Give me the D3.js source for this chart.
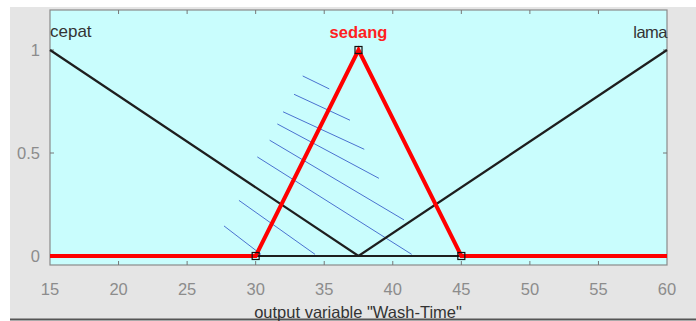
<!DOCTYPE html>
<html>
<head>
<meta charset="utf-8">
<script src="https://cdn.jsdelivr.net/npm/d3@7"></script>
<style>
  body { margin: 0; background: #fff; }
  svg { display: block; font-family: "Liberation Sans", Arial, sans-serif; }
</style>
</head>
<body>
<div id="chart"></div>
<script>
// membership functions of output "Wash-Time"
const xTicks = [15, 20, 25, 30, 35, 40, 45, 50, 55, 60];
const yTicks = [0, 0.5, 1];
const yTickLabels = ["0", "0.5", "1"];
const cepatPts = [[15, 1], [37.5, 0], [60, 0]];
const lamaPts = [[15, 0], [37.5, 0], [60, 1]];
const sedangPts = [[15, 0], [30, 0], [37.5, 1], [45, 0], [60, 0]];
const sedangVertices = [[30, 0], [37.5, 1], [45, 0]];
const mfNames = ["cepat", "sedang", "lama"];
// hand-drawn hatch strokes (x, y) pairs in data units
const hatch = [
  [[33.43, 0.874], [35.37, 0.811]],
  [[32.80, 0.785], [36.88, 0.659]],
  [[32.00, 0.700], [37.92, 0.518]],
  [[31.58, 0.641], [38.99, 0.377]],
  [[31.02, 0.562], [40.82, 0.175]],
  [[30.12, 0.481], [41.38, 0.008]],
  [[28.78, 0.270], [34.33, 0.008]],
  [[27.69, 0.146], [30.39, 0.008]]
];

const W = 696, H = 321;
const svg = d3.select("#chart").append("svg")
  .attr("width", W).attr("height", H);

// figure panel
svg.append("rect").attr("x", 10).attr("y", 7).attr("width", W - 10).attr("height", 312)
  .attr("fill", "#e5e5e5");
svg.append("line").attr("x1", 10).attr("x2", W).attr("y1", 319.5).attr("y2", 319.5)
  .attr("stroke", "#555").attr("stroke-width", 2);

const pLeft = 50, pRight = 667, pTop = 10, pBottom = 265;
const x = d3.scaleLinear().domain([15, 60]).range([pLeft, pRight]);
const y = d3.scaleLinear().domain([0, 1]).range([256, 50]);

svg.append("rect").attr("x", pLeft).attr("y", pTop)
  .attr("width", pRight - pLeft).attr("height", pBottom - pTop)
  .attr("fill", "#c9fdfd").attr("stroke", "#8a8a8a").attr("stroke-width", 1.2);

// tick marks inside the box
const tk = svg.append("g").attr("stroke", "#777").attr("stroke-width", 1);
xTicks.slice(1, -1).forEach(t => {
  tk.append("line").attr("x1", x(t)).attr("x2", x(t)).attr("y1", pBottom).attr("y2", pBottom - 4);
  tk.append("line").attr("x1", x(t)).attr("x2", x(t)).attr("y1", pTop).attr("y2", pTop + 4);
});
yTicks.forEach(t => {
  tk.append("line").attr("x1", pLeft).attr("x2", pLeft + 4).attr("y1", y(t)).attr("y2", y(t));
  tk.append("line").attr("x1", pRight).attr("x2", pRight - 4).attr("y1", y(t)).attr("y2", y(t));
});

// tick labels
svg.append("g").attr("fill", "#8c8c8c").attr("font-size", 16.5).attr("text-anchor", "middle")
  .selectAll("text").data(xTicks).join("text")
  .attr("x", d => x(d)).attr("y", 295).text(d => d);
svg.append("g").attr("fill", "#8c8c8c").attr("font-size", 16.5).attr("text-anchor", "end")
  .selectAll("text").data(yTicks).join("text")
  .attr("x", 40).attr("y", d => y(d) + 6).text((d, i) => yTickLabels[i]);

// x label, sits just above the panel's bottom edge
svg.append("text").attr("x", 358).attr("y", 317.5).attr("text-anchor", "middle")
  .attr("font-size", 16.5).attr("fill", "#333")
  .text('output variable "Wash-Time"');

const line = d3.line().x(d => x(d[0])).y(d => y(d[1]));

// hatch annotation
svg.append("g").attr("stroke", "#4a72d0").attr("stroke-width", 1)
  .selectAll("path").data(hatch).join("path").attr("d", line).attr("fill", "none");

// black membership functions
svg.append("path").datum(cepatPts).attr("d", line).attr("fill", "none")
  .attr("stroke", "#1e1e1e").attr("stroke-width", 2.2);
svg.append("path").datum(lamaPts).attr("d", line).attr("fill", "none")
  .attr("stroke", "#1e1e1e").attr("stroke-width", 2.2);

// selected function
svg.append("path").datum(sedangPts).attr("d", line).attr("fill", "none")
  .attr("stroke", "#ff0000").attr("stroke-width", 4).attr("stroke-linejoin", "miter");

svg.append("g").selectAll("rect").data(sedangVertices).join("rect")
  .attr("x", d => x(d[0]) - 3.5).attr("y", d => y(d[1]) - 3.5)
  .attr("width", 7).attr("height", 7)
  .attr("fill", "none").attr("stroke", "#111").attr("stroke-width", 1.2);

// names
svg.append("text").attr("x", pLeft).attr("y", 37).attr("font-size", 17).attr("fill", "#333")
  .text(mfNames[0]);
svg.append("text").attr("x", x(37.5)).attr("y", 38).attr("text-anchor", "middle")
  .attr("font-size", 16.5).attr("font-weight", "bold").attr("fill", "#ff2020").text(mfNames[1]);
svg.append("text").attr("x", pRight).attr("y", 38).attr("text-anchor", "end")
  .attr("font-size", 16.5).attr("fill", "#333").attr("letter-spacing", -0.5).text(mfNames[2]);
</script>
</body>
</html>
